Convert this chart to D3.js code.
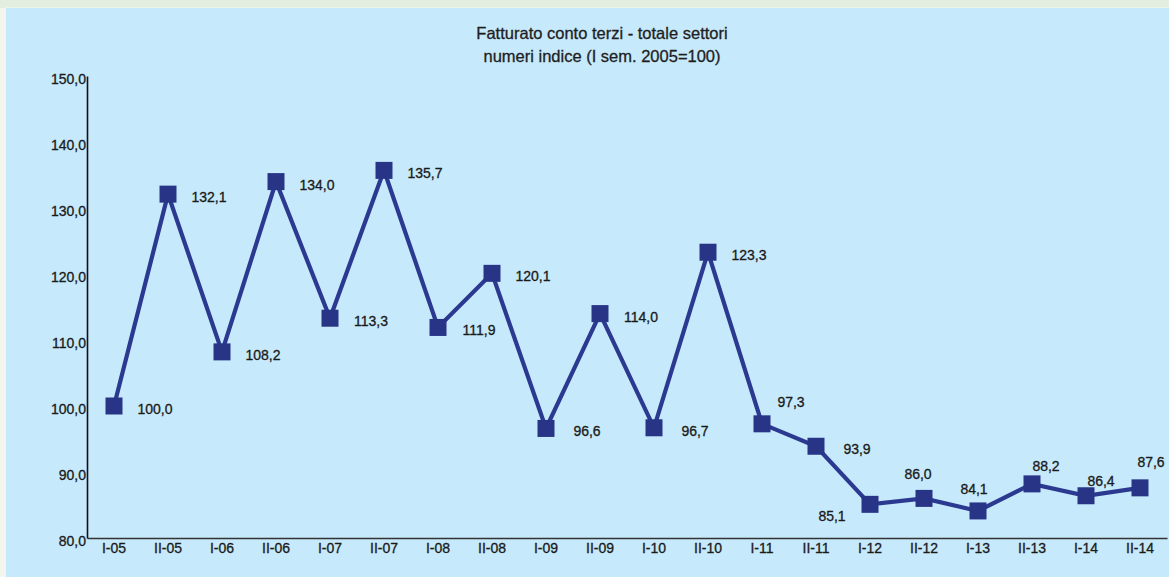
<!DOCTYPE html>
<html>
<head>
<meta charset="utf-8">
<script src="https://cdn.jsdelivr.net/npm/d3@7"></script>
<style>
  html, body { margin: 0; padding: 0; background: #f4f5ef; }
  svg { display: block; font-family: "Liberation Sans", Arial, sans-serif; }
  text { stroke: #1a1a1a; stroke-width: 0.3px; }
</style>
</head>
<body>
<div id="chart"></div>
<script>
// Chart data: semesters and index values (I sem. 2005 = 100)
const periods = ["I-05", "II-05", "I-06", "II-06", "I-07", "II-07", "I-08", "II-08", "I-09", "II-09",
                 "I-10", "II-10", "I-11", "II-11", "I-12", "II-12", "I-13", "II-13", "I-14", "II-14"]
const values = [100.0, 132.1, 108.2, 134.0, 113.3, 135.7, 111.9, 120.1, 96.6, 114.0,
                96.7, 123.3, 97.3, 93.9, 85.1, 86.0, 84.1, 88.2, 86.4, 87.6]
const yTicks = [80, 90, 100, 110, 120, 130, 140, 150]
const titleLines = ["Fatturato conto terzi - totale settori", "numeri indice (I sem. 2005=100)"]

const width = 1169, height = 577
const fmt = v => d3.format(".1f")(v).replace(".", ",")

// label placement (centre of the label relative to the marker), default is to the right
const labelDefault = { dx: 41, dy: 3 }
const labelNudge = {
    "I-11":  { dx: 29, dy: -22 },
    "I-12":  { dx: -38, dy: 12 },
    "II-12": { dx: -6, dy: -24 },
    "I-13":  { dx: -4, dy: -22 },
    "II-13": { dx: 14, dy: -18 },
    "I-14":  { dx: 15, dy: -15 },
    "II-14": { dx: 11, dy: -26 }
}

const svg = d3.select("#chart").append("svg")
    .attr("width", width)
    .attr("height", height)

// outer frame and panel
svg.append("rect").attr("width", width).attr("height", height).attr("fill", "#f4f5ef")
svg.append("rect").attr("x", 0).attr("y", 0).attr("width", width).attr("height", 8).attr("fill", "#e3ede0")
svg.append("rect").attr("x", 6).attr("y", 8).attr("width", width - 6).attr("height", height - 8).attr("fill", "#c6e9fb")
svg.append("line").attr("x1", 6).attr("x2", width).attr("y1", 7.5).attr("y2", 7.5)
    .attr("stroke", "#eef4e6").attr("stroke-width", 1)

// title
svg.append("g").selectAll("text")
    .data(titleLines)
    .join("text")
    .attr("x", 602)
    .attr("y", (d, i) => 39 + i * 23)
    .attr("text-anchor", "middle")
    .attr("font-size", 16.5)
    .attr("fill", "#1e1e1e")
    .style("stroke", "#1e1e1e")
    .text(d => d)

// scales
const xScale = d3.scaleBand().domain(periods).range([87, 1167])
const yScale = d3.scaleLinear().domain([80, 150]).range([538, 76])
const cx = d => xScale(d) + xScale.bandwidth() / 2

// y axis
const yAxis = svg.append("g")
    .attr("transform", "translate(87,0)")
    .call(d3.axisLeft(yScale).tickValues(yTicks).tickSize(0).tickPadding(1).tickFormat(fmt))
yAxis.select(".domain").attr("stroke", "#111").attr("stroke-width", 1.6)
yAxis.selectAll("text")
    .attr("font-size", 14)
    .attr("font-family", "Liberation Sans, Arial, sans-serif")
    .attr("fill", "#1a1a1a")
    .attr("y", 3)

// x axis
const xAxis = svg.append("g")
    .attr("transform", "translate(0,538)")
    .call(d3.axisBottom(xScale).tickSize(0).tickPadding(5))
xAxis.select(".domain").attr("stroke", "#333").attr("stroke-width", 1.6)
xAxis.selectAll("text")
    .attr("font-size", 14)
    .attr("font-family", "Liberation Sans, Arial, sans-serif")
    .attr("fill", "#1a1a1a")

// line
const line = d3.line()
    .x((d, i) => cx(periods[i]))
    .y(d => yScale(d))

svg.append("path")
    .datum(values)
    .attr("fill", "none")
    .attr("stroke", "#2b3990")
    .attr("stroke-width", 4.2)
    .attr("stroke-linejoin", "miter")
    .attr("d", line)

// square markers
const size = 17
svg.append("g").selectAll("rect")
    .data(values)
    .join("rect")
    .attr("x", (d, i) => cx(periods[i]) - size / 2)
    .attr("y", d => yScale(d) - size / 2)
    .attr("width", size)
    .attr("height", size)
    .attr("fill", "#283587")

// value labels
svg.append("g").selectAll("text")
    .data(values)
    .join("text")
    .each(function (d, i) {
        const o = labelNudge[periods[i]] || labelDefault
        d3.select(this)
            .attr("x", cx(periods[i]) + o.dx)
            .attr("y", yScale(d) + o.dy)
    })
    .attr("text-anchor", "middle")
    .attr("dy", "0.35em")
    .attr("font-size", 14)
    .attr("fill", "#1a1a1a")
    .text(d => fmt(d))
</script>
</body>
</html>
